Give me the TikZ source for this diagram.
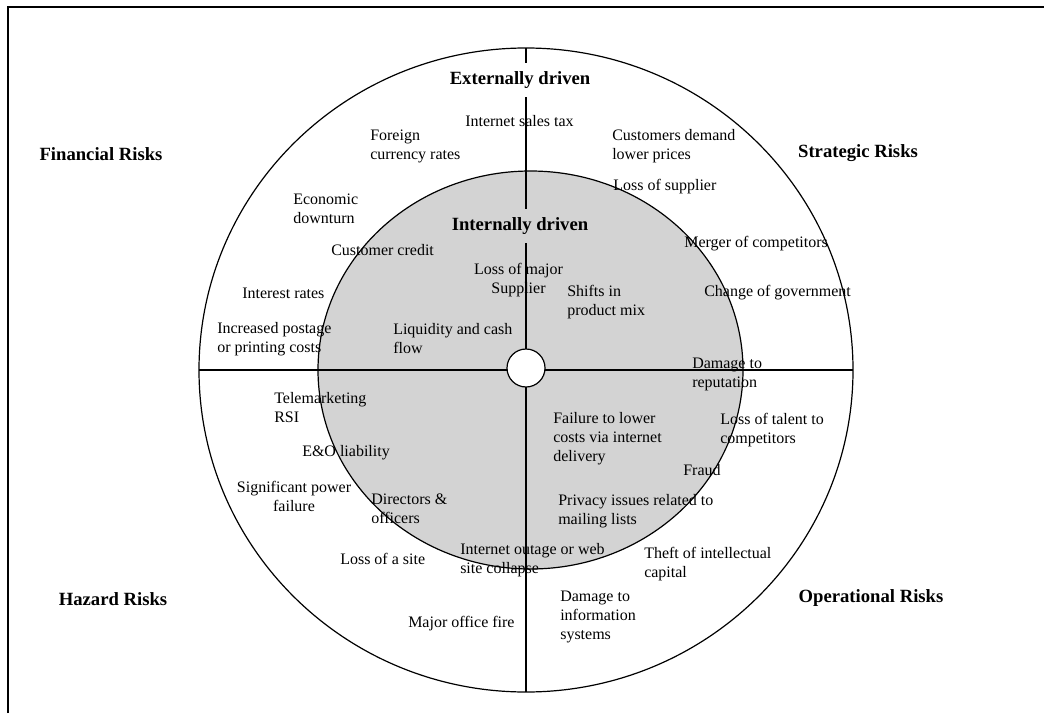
\documentclass[tikz,border=0pt]{standalone}
\usepackage{fontspec}
\setmainfont{Liberation Serif}
\usetikzlibrary{shapes.geometric}
\definecolor{innergray}{RGB}{211,211,211}
\tikzset{
  risk/.style={inner sep=0pt,anchor=west,align=left,font=\fontsize{12}{14.25}\selectfont},
  riskc/.style={inner sep=0pt,align=center,font=\fontsize{12}{14.25}\selectfont},
  head/.style={inner sep=0pt,font=\fontsize{14}{16}\selectfont\bfseries},
  ring/.style={draw,ellipse,inner sep=0pt,outer sep=0pt,line width=0.9pt},
}
\begin{document}
\begin{tikzpicture}[x=0.75pt,y=-0.75pt]
        \useasboundingbox (0,0) rectangle (1044,713);
        \draw[line width=1.5pt] (8,713) -- (8,7) -- (1044,7);

        \node (outer) at (526,370) [ring,minimum width=490.5pt,minimum height=483pt] {};
        \node (inner) at (530.5,370) [ring,fill=innergray,minimum width=318.75pt,minimum height=298.5pt] {};
        \draw[line width=0.9pt] (outer.west) -- (outer.east);
        \draw[line width=0.9pt] (outer.north) -- (outer.south);

        \node (external) at (520,80) [head,fill=white,inner ysep=6.5pt,inner xsep=2pt] {Externally driven};
        \node (internal) at (520,226) [head,fill=innergray,inner ysep=6.5pt,inner xsep=2pt] {Internally driven};
        \node (financial) at (101,154) [head] {Financial Risks};
        \node (strategic) at (858,153) [head] {Strategic Risks};
        \node (hazard) at (113,599) [head] {Hazard Risks};
        \node (operational) at (871,598) [head] {Operational Risks};

        \node (tax) at (465,121) [risk] {Internet sales tax};
        \node (forex) at (370,146.5) [risk] {Foreign\\currency rates};
        \node (demand) at (612,146.5) [risk] {Customers demand\\lower prices};
        \node (supplier) at (613,187) [risk] {Loss of supplier};
        \node (downturn) at (293,209) [risk] {Economic\\downturn};
        \node (merger) at (684,244) [risk] {Merger of competitors};
        \node (credit) at (331,250) [risk] {Customer credit};
        \node (majorsup) at (518.5,280.5) [riskc] {Loss of major\\Supplier};
        \node (rates) at (242,293) [risk] {Interest rates};
        \node (mix) at (567,302.5) [risk] {Shifts in\\product mix};
        \node (govt) at (704,293) [risk] {Change of government};
        \node (postage) at (217,339) [risk] {Increased postage\\or printing costs};
        \node (liquidity) at (393,339) [risk] {Liquidity and cash\\flow};
        \node (reputation) at (692,374) [risk] {Damage to\\reputation};
        \node (telemkt) at (274,407.5) [risk] {Telemarketing\\RSI};
        \node (lowercost) at (553,439) [risk] {Failure to lower\\costs via internet\\delivery};
        \node (talent) at (720,430.5) [risk] {Loss of talent to\\competitors};
        \node (eando) at (302,453) [risk] {E\&O liability};
        \node (fraud) at (683,470) [risk] {Fraud};
        \node (power) at (294,496) [riskc] {Significant power\\failure};
        \node (directors) at (371,508.5) [risk] {Directors \&\\officers};
        \node (privacy) at (558,511.5) [risk] {Privacy issues related to\\mailing lists};
        \node (outage) at (460,560) [risk] {Internet outage or web\\site collapse};
        \node (site) at (340,559) [risk] {Loss of a site};
        \node (theft) at (644,564.5) [risk] {Theft of intellectual\\capital};
        \node (infosys) at (560,617) [risk] {Damage to\\information\\systems};
        \node (fire) at (408,624) [risk] {Major office fire};

        \node (hub) at (526,368) [draw,circle,fill=white,minimum size=28.5pt,inner sep=0pt,line width=0.9pt] {};
      \end{tikzpicture}
\end{document}
